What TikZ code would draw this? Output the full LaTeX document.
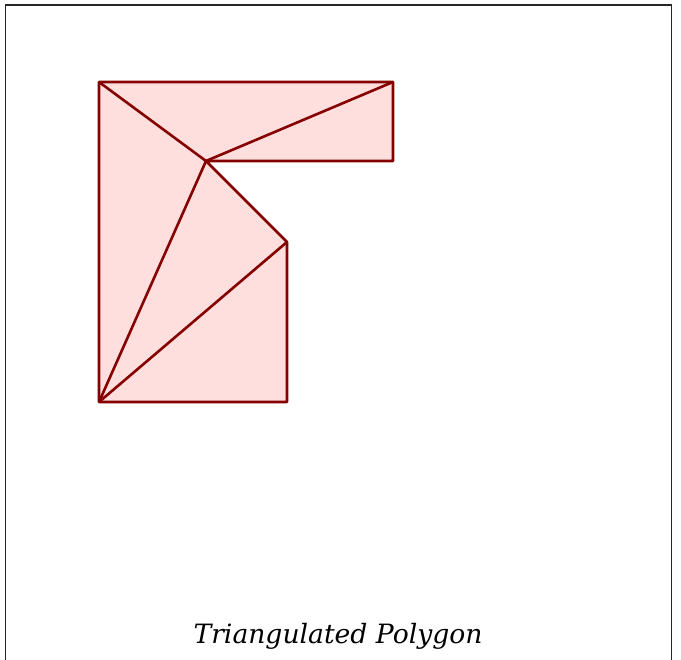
\documentclass[tikz,border=0pt]{standalone}
\usepackage{fontspec}
\setmainfont{DejaVu Serif}
\begin{document}
\begin{tikzpicture}[x=1pt,y=-1pt,
  poly/.style={draw=red!52!black,line width=2.6pt,line join=round,fill=red!13},
  diag/.style={draw=red!52!black,line width=2.6pt},
  frame/.style={draw=black!85,line width=1.6pt}]
\useasboundingbox (0,0) rectangle (681,660);
\coordinate (A) at (99,82);
\coordinate (B) at (393,82);
\coordinate (C) at (393,161);
\coordinate (D) at (206,161);
\coordinate (E) at (287,242);
\coordinate (F) at (287,402);
\coordinate (G) at (99,402);
\draw[frame] (5.5,660) -- (5.5,5) -- (671.5,5) -- (671.5,660);
\path[poly] (A) -- (B) -- (C) -- (D) -- (E) -- (F) -- (G) -- cycle;
\draw[diag] (A) -- (D);
\draw[diag] (B) -- (D);
\draw[diag] (G) -- (D);
\draw[diag] (G) -- (E);
\node[font=\fontsize{26.6}{30}\selectfont\itshape, anchor=base] (title) at (338,644) {Triangulated Polygon};
\end{tikzpicture}
\end{document}
